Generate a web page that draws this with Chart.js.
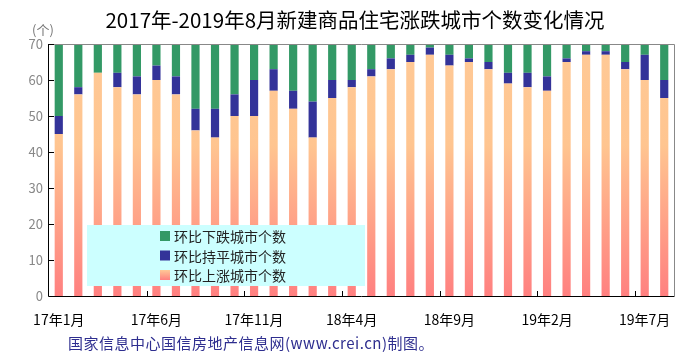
<!DOCTYPE html>
<html>
<head>
<meta charset="utf-8">
<script src="https://cdn.jsdelivr.net/npm/chart.js@4"></script>
<style>
  body { margin: 0; background: #fff; }
  canvas { display: block; }
</style>
</head>
<body>
<canvas id="chart" width="693" height="363"></canvas>
<script>
// Месяцы с 17年1月 по 19年8月
const months = [
    '17年1月', '17年2月', '17年3月', '17年4月', '17年5月', '17年6月', '17年7月', '17年8月',
    '17年9月', '17年10月', '17年11月', '17年12月', '18年1月', '18年2月', '18年3月', '18年4月',
    '18年5月', '18年6月', '18年7月', '18年8月', '18年9月', '18年10月', '18年11月', '18年12月',
    '19年1月', '19年2月', '19年3月', '19年4月', '19年5月', '19年6月', '19年7月', '19年8月'
];

// Значения по сериям (чтение с картинки)
const riseCount = [45, 56, 62, 58, 56, 60, 56, 46, 44, 50, 50, 57, 52, 44, 55, 58,
                   61, 63, 65, 67, 64, 65, 63, 59, 58, 57, 65, 67, 67, 63, 60, 55];
const flatCount = [5, 2, 0, 4, 5, 4, 5, 6, 8, 6, 10, 6, 5, 10, 5, 2,
                   2, 3, 2, 2, 3, 1, 2, 3, 4, 4, 1, 1, 1, 2, 7, 5];
const fallCount = [20, 12, 8, 8, 9, 6, 9, 18, 18, 14, 10, 7, 13, 16, 10, 10,
                   7, 4, 3, 1, 3, 4, 5, 8, 8, 9, 4, 2, 2, 5, 3, 10];

const yTicks = [0, 10, 20, 30, 40, 50, 60, 70];

const titleText = '2017年-2019年8月新建商品住宅涨跌城市个数变化情况';
const sourceText = '国家信息中心国信房地产信息网(www.crei.cn)制图。';
const FONT = '"Noto Sans CJK SC", "Noto Sans", sans-serif';

// Градиент для растущих городов (снизу розовый, сверху персиковый)
function riseGradient(ctx, area) {
    const g = ctx.createLinearGradient(0, area.bottom, 0, area.top);
    g.addColorStop(0, '#ff8080');
    g.addColorStop(0.6, '#ffc590');
    g.addColorStop(1, '#ffc996');
    return g;
}

// Рамка, засечки, заголовок, подпись и легенда
const decorPlugin = {
    id: 'decor',
    afterDatasetsDraw(chart) {
        const { ctx, chartArea: a, scales } = chart;
        ctx.save();

        // легенда-прямоугольник поверх столбцов
        const lx = a.left + 38, ly = a.top + 181, lw = 278, lh = 61;
        ctx.fillStyle = '#ccffff';
        ctx.fillRect(lx, ly, lw, lh);
        const items = [
            { ds: chart.data.datasets[2], color: '#339966' },
            { ds: chart.data.datasets[1], color: '#333399' },
            { ds: chart.data.datasets[0], color: null }
        ];
        ctx.font = '14px ' + FONT;
        ctx.textBaseline = 'middle';
        items.forEach((it, i) => {
            const cy = ly + 11 + i * 19.5;
            if (it.color) {
                ctx.fillStyle = it.color;
            } else {
                const g = ctx.createLinearGradient(0, cy + 5, 0, cy - 5);
                g.addColorStop(0, '#ff8080');
                g.addColorStop(1, '#ffc996');
                ctx.fillStyle = g;
            }
            ctx.fillRect(lx + 73, cy - 5, 10, 10);
            ctx.fillStyle = '#222';
            ctx.fillText(it.ds.label, lx + 87, cy + 1);
        });

        // рамка графика
        ctx.lineWidth = 1;
        ctx.strokeStyle = '#888';
        ctx.beginPath();
        ctx.moveTo(a.left, a.top + 0.5);
        ctx.lineTo(a.right + 0.5, a.top + 0.5);
        ctx.lineTo(a.right + 0.5, a.bottom);
        ctx.stroke();
        ctx.strokeStyle = '#000';
        ctx.beginPath();
        ctx.moveTo(a.left - 0.5, a.top);
        ctx.lineTo(a.left - 0.5, a.bottom + 0.5);
        ctx.lineTo(a.right + 0.5, a.bottom + 0.5);
        ctx.stroke();

        // засечки внутрь по оси Y
        ctx.beginPath();
        yTicks.forEach(v => {
            const y = Math.round(scales.y.getPixelForValue(v)) + 0.5;
            ctx.moveTo(a.left, y);
            ctx.lineTo(a.left + 5, y);
        });
        // засечки внутрь по оси X — каждые 5 месяцев
        for (let i = 5; i < months.length; i += 5) {
            const x = Math.round((scales.x.getPixelForValue(i) + scales.x.getPixelForValue(i - 1)) / 2) + 0.5;
            ctx.moveTo(x, a.bottom);
            ctx.lineTo(x, a.bottom - 5);
        }
        ctx.stroke();

        // заголовок
        ctx.fillStyle = '#000';
        ctx.textAlign = 'center';
        ctx.textBaseline = 'middle';
        ctx.font = '20.5px ' + FONT;
        ctx.fillText(titleText, 355, 20);

        // единицы
        ctx.fillStyle = '#777';
        ctx.font = '13px ' + FONT;
        ctx.fillText('(个)', 43, 30);

        // источник
        ctx.textAlign = 'left';
        ctx.fillStyle = '#2e2e8f';
        ctx.font = '15px ' + FONT;
        ctx.letterSpacing = '0.5px';
        ctx.fillText(sourceText, 68, 343);

        ctx.restore();
    }
};

const ctx = document.getElementById('chart').getContext('2d');

const chart = new Chart(ctx, {
    type: 'bar',
    data: {
        labels: months,
        datasets: [
            {
                label: '环比上涨城市个数',
                data: riseCount,
                backgroundColor: (c) => {
                    const area = c.chart.chartArea;
                    if (!area) return '#ffb08a';
                    return riseGradient(c.chart.ctx, area);
                }
            },
            { label: '环比持平城市个数', data: flatCount, backgroundColor: '#333399' },
            { label: '环比下跌城市个数', data: fallCount, backgroundColor: '#339966' }
        ]
    },
    options: {
        responsive: false,
        animation: false,
        barPercentage: 0.42,
        categoryPercentage: 1,
        layout: { padding: { left: 0, right: 19, top: 44, bottom: 0 } },
        plugins: {
            legend: { display: false },
            title: { display: false },
            tooltip: { enabled: false }
        },
        scales: {
            x: {
                stacked: true,
                grid: { display: false, drawTicks: false },
                border: { display: false },
                ticks: {
                    autoSkip: false,
                    maxRotation: 0,
                    padding: 15,
                    color: '#000',
                    font: { family: FONT, size: 14 },
                    callback: function (v, i) {
                        return i % 5 === 0 ? this.getLabelForValue(v) : '';
                    }
                },
                afterFit: (s) => { s.height = 67; }
            },
            y: {
                stacked: true,
                min: 0,
                max: 70,
                grid: { display: false, drawTicks: false },
                border: { display: false },
                ticks: {
                    stepSize: 10,
                    padding: 6,
                    color: '#888',
                    font: { family: FONT, size: 13 }
                },
                afterFit: (s) => { s.width = 49; }
            }
        }
    },
    plugins: [decorPlugin]
});
</script>
</body>
</html>
